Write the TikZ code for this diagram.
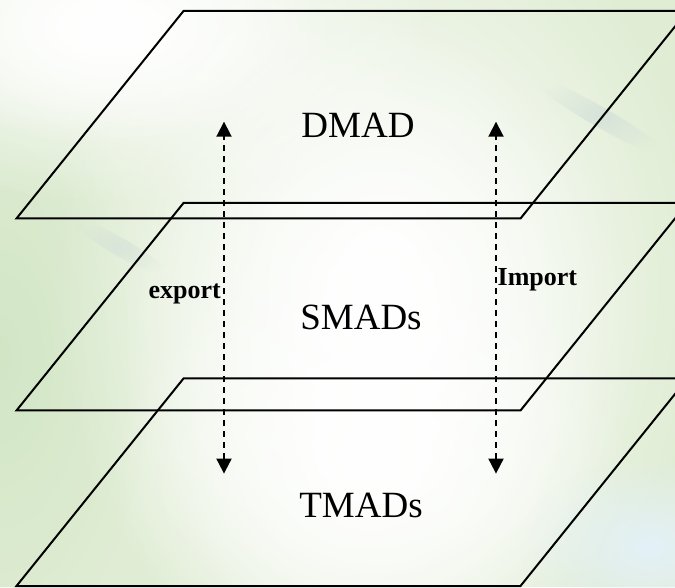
\documentclass[tikz,border=0pt]{standalone}
\usepackage{fontspec}
\setmainfont{Liberation Serif}
\usepackage{tikz}
\usetikzlibrary{arrows.meta,fadings}

\definecolor{bggreen}{RGB}{224,237,212}
\definecolor{leafgreen}{RGB}{210,230,198}
\definecolor{mistblue}{RGB}{228,241,248}
\definecolor{streakgrey}{RGB}{200,214,214}

\tikzfading[name=blobfade, inner color=transparent!0, outer color=transparent!100]

\tikzset{
    layer/.style={line width=2pt, line join=miter},
    flow/.style={dashed, dash pattern=on 6.5pt off 4.5pt, line width=1.9pt,
        {Triangle[width=15pt,length=15pt]}-{Triangle[width=15pt,length=15pt]}},
    title/.style={font=\fontsize{37}{40}\selectfont, anchor=base},
    tag/.style={font=\bfseries\fontsize{26}{28}\selectfont, anchor=base, inner sep=0pt}
}

\begin{document}
\begin{tikzpicture}[x=1pt,y=1pt]
            \useasboundingbox (0,0) rectangle (675,587);
            \clip (0,0) rectangle (675,587);

            % faded map in the back
            \fill[bggreen] (0,0) rectangle (675,587);
            \fill[leafgreen, path fading=blobfade] (0,230) ellipse (150 and 300);
            \fill[white, path fading=blobfade] (110,560) ellipse (320 and 180);
            \fill[white, path fading=blobfade] (110,560) ellipse (220 and 120);
            \fill[white, path fading=blobfade] (380,300) ellipse (330 and 420);
            \fill[white, path fading=blobfade] (380,250) ellipse (260 and 330);
            \fill[white, path fading=blobfade] (370,120) ellipse (260 and 220);
            \fill[mistblue, path fading=blobfade] (650,40) ellipse (130 and 90);
            \fill[streakgrey, opacity=0.5, path fading=blobfade, rotate around={-30:(600,470)}] (600,470) ellipse (80 and 10);
            \fill[streakgrey, opacity=0.4, path fading=blobfade, rotate around={-30:(120,340)}] (120,340) ellipse (60 and 9);

            % three layers
            \foreach \low in {368.5, 176.5, 1} {
                \draw[layer] (16.5,\low) -- (520.5,\low) -- (687.5,\low+207.5)
                    -- (183.5,\low+207.5) -- cycle;
            }

            % layer names
            \node[title] (dmad) at (358,449.6) {DMAD};
            \node[title] (smads) at (361,257.5) {SMADs};
            \node[title] (tmads) at (361,69.2) {TMADs};

            % arrow ends
            \coordinate (exptop) at (224,465.3);
            \coordinate (expbot) at (224,113.4);
            \coordinate (imptop) at (496,465.3);
            \coordinate (impbot) at (496,113.4);

            \draw[flow] (expbot) -- (exptop);
            \draw[flow] (impbot) -- (imptop);

            \node[tag, anchor=base east] (export) at (221,288.6) {export};
            \node[tag, anchor=base west] (import) at (497.5,301.3) {Import};
        \end{tikzpicture}
\end{document}
